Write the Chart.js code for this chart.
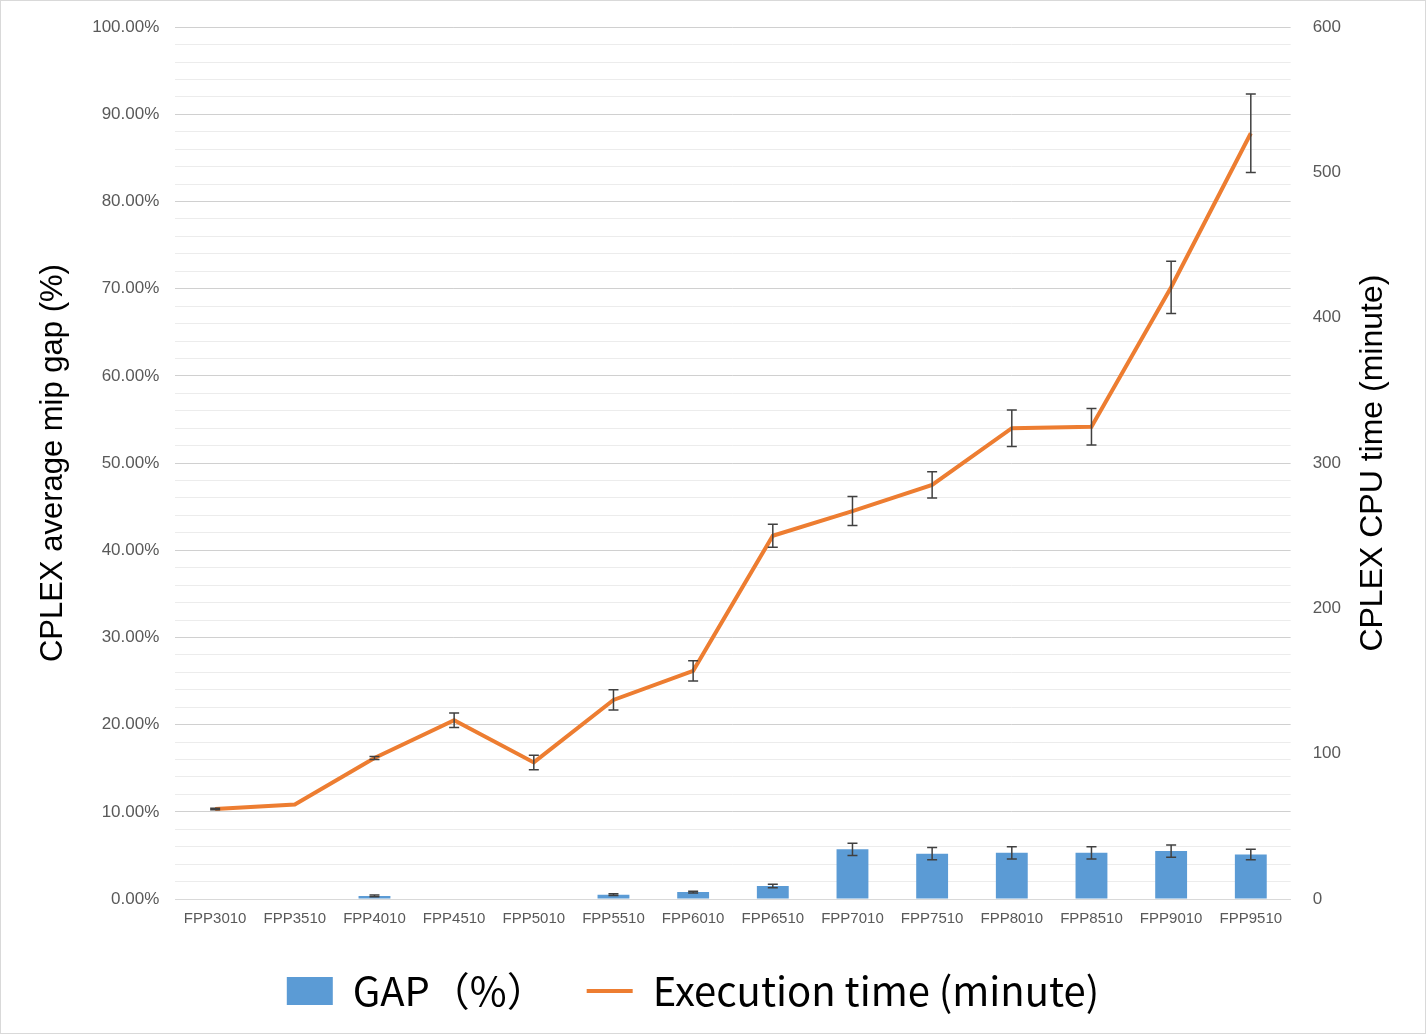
<!DOCTYPE html>
<html><head><meta charset="utf-8">
<script src="https://cdn.jsdelivr.net/npm/chart.js@4"></script>
<style>body{margin:0;background:#fff}#wrap{position:absolute;left:0;top:0;width:1424px;height:1032px;border:1px solid #d9d9d9}</style>
</head><body><div id="wrap"><canvas id="c"></canvas></div>
<script>
const labels = ['FPP3010','FPP3510','FPP4010','FPP4510','FPP5010','FPP5510','FPP6010','FPP6510','FPP7010','FPP7510','FPP8010','FPP8510','FPP9010','FPP9510'];
const gap = [0, 0, 0.35, 0, 0, 0.5, 0.8, 1.5, 5.7, 5.2, 5.3, 5.3, 5.5, 5.1];
const gapErr = [0, 0, 0.1, 0, 0, 0.1, 0.1, 0.2, 0.7, 0.7, 0.7, 0.7, 0.7, 0.6];
const time = [62, 65, 97, 123, 94, 137, 157, 250, 267, 285, 324, 325, 421, 527];
const timeErr = [0.5, 0, 1, 5, 5, 7, 7, 8, 10, 9, 12.5, 12.5, 18, 27];

const errorBars = {
  id: 'errorBars',
  afterDatasetsDraw(chart) {
    const ctx = chart.ctx;
    const sets = [[0, gap, gapErr, 'y'], [1, time, timeErr, 'y1']];
    ctx.save();
    ctx.strokeStyle = '#404040';
    ctx.lineWidth = 1.5;
    sets.forEach(([di, vals, errs, ax]) => {
      const meta = chart.getDatasetMeta(di);
      const s = chart.scales[ax];
      vals.forEach((v, i) => {
        if (!errs[i]) return;
        const x = meta.data[i].x;
        const y1 = s.getPixelForValue(v + errs[i]), y2 = s.getPixelForValue(v - errs[i]);
        ctx.beginPath();
        ctx.moveTo(x, y1); ctx.lineTo(x, y2);
        ctx.moveTo(x - 5, y1); ctx.lineTo(x + 5, y1);
        ctx.moveTo(x - 5, y2); ctx.lineTo(x + 5, y2);
        ctx.stroke();
      });
    });
    // right axis title, reading bottom to top
    const a = chart.chartArea;
    ctx.translate(1372, (a.top + a.bottom) / 2);
    ctx.rotate(-Math.PI / 2);
    ctx.fillStyle = '#000';
    ctx.font = '32px "Liberation Sans", Arial, sans-serif';
    ctx.textAlign = 'center';
    ctx.textBaseline = 'middle';
    ctx.fillText('CPLEX CPU time (minute)', 0, 0);
    ctx.restore();
  }
};

new Chart(document.getElementById('c'), {
  data: {
    labels: labels,
    datasets: [
      { type: 'bar', label: 'GAP\uFF08%\uFF09', data: gap, yAxisID: 'y', backgroundColor: '#5b9bd5', barPercentage: 0.4, categoryPercentage: 1, order: 2, pointStyle: 'rect' },
      { type: 'line', label: 'Execution time (minute)', data: time, yAxisID: 'y1', borderColor: '#ed7d31', backgroundColor: '#ed7d31', borderWidth: 4, pointRadius: 0, tension: 0, order: 1, pointStyle: 'line' }
    ]
  },
  options: {
    responsive: true, maintainAspectRatio: false, animation: false,
    layout: { padding: { left: 30, right: 70, top: 22, bottom: 12 } },
    plugins: {
      legend: {
        position: 'bottom',
        labels: { color: '#000', font: { size: 40, family: 'Noto Sans CJK JP' }, usePointStyle: true, pointStyleWidth: 46, boxHeight: 28, padding: 40,
          sort: (a, b) => a.datasetIndex - b.datasetIndex }
      }
    },
    scales: {
      x: {
        grid: { display: false },
        border: { color: '#d9d9d9' },
        ticks: { color: '#595959', font: { size: 15 }, maxRotation: 0, autoSkip: false }
      },
      y: {
        min: 0, max: 100,
        ticks: { stepSize: 2, color: '#595959', font: { size: 17 }, autoSkip: false, padding: 16,
          callback: v => v % 10 === 0 ? v.toFixed(2) + '%' : '' },
        grid: { color: ctx => ctx.tick.value % 10 === 0 ? '#d0d0d0' : '#ececec', drawTicks: false },
        border: { display: false },
        title: { display: true, text: 'CPLEX average mip gap (%)', color: '#000', font: { size: 31 } }
      },
      y1: {
        position: 'right', min: 0, max: 600,
        ticks: { stepSize: 100, color: '#595959', font: { size: 17 }, padding: 14 },
        grid: { display: false },
        border: { display: false }
      }
    }
  },
  plugins: [errorBars]
});
</script></body></html>
